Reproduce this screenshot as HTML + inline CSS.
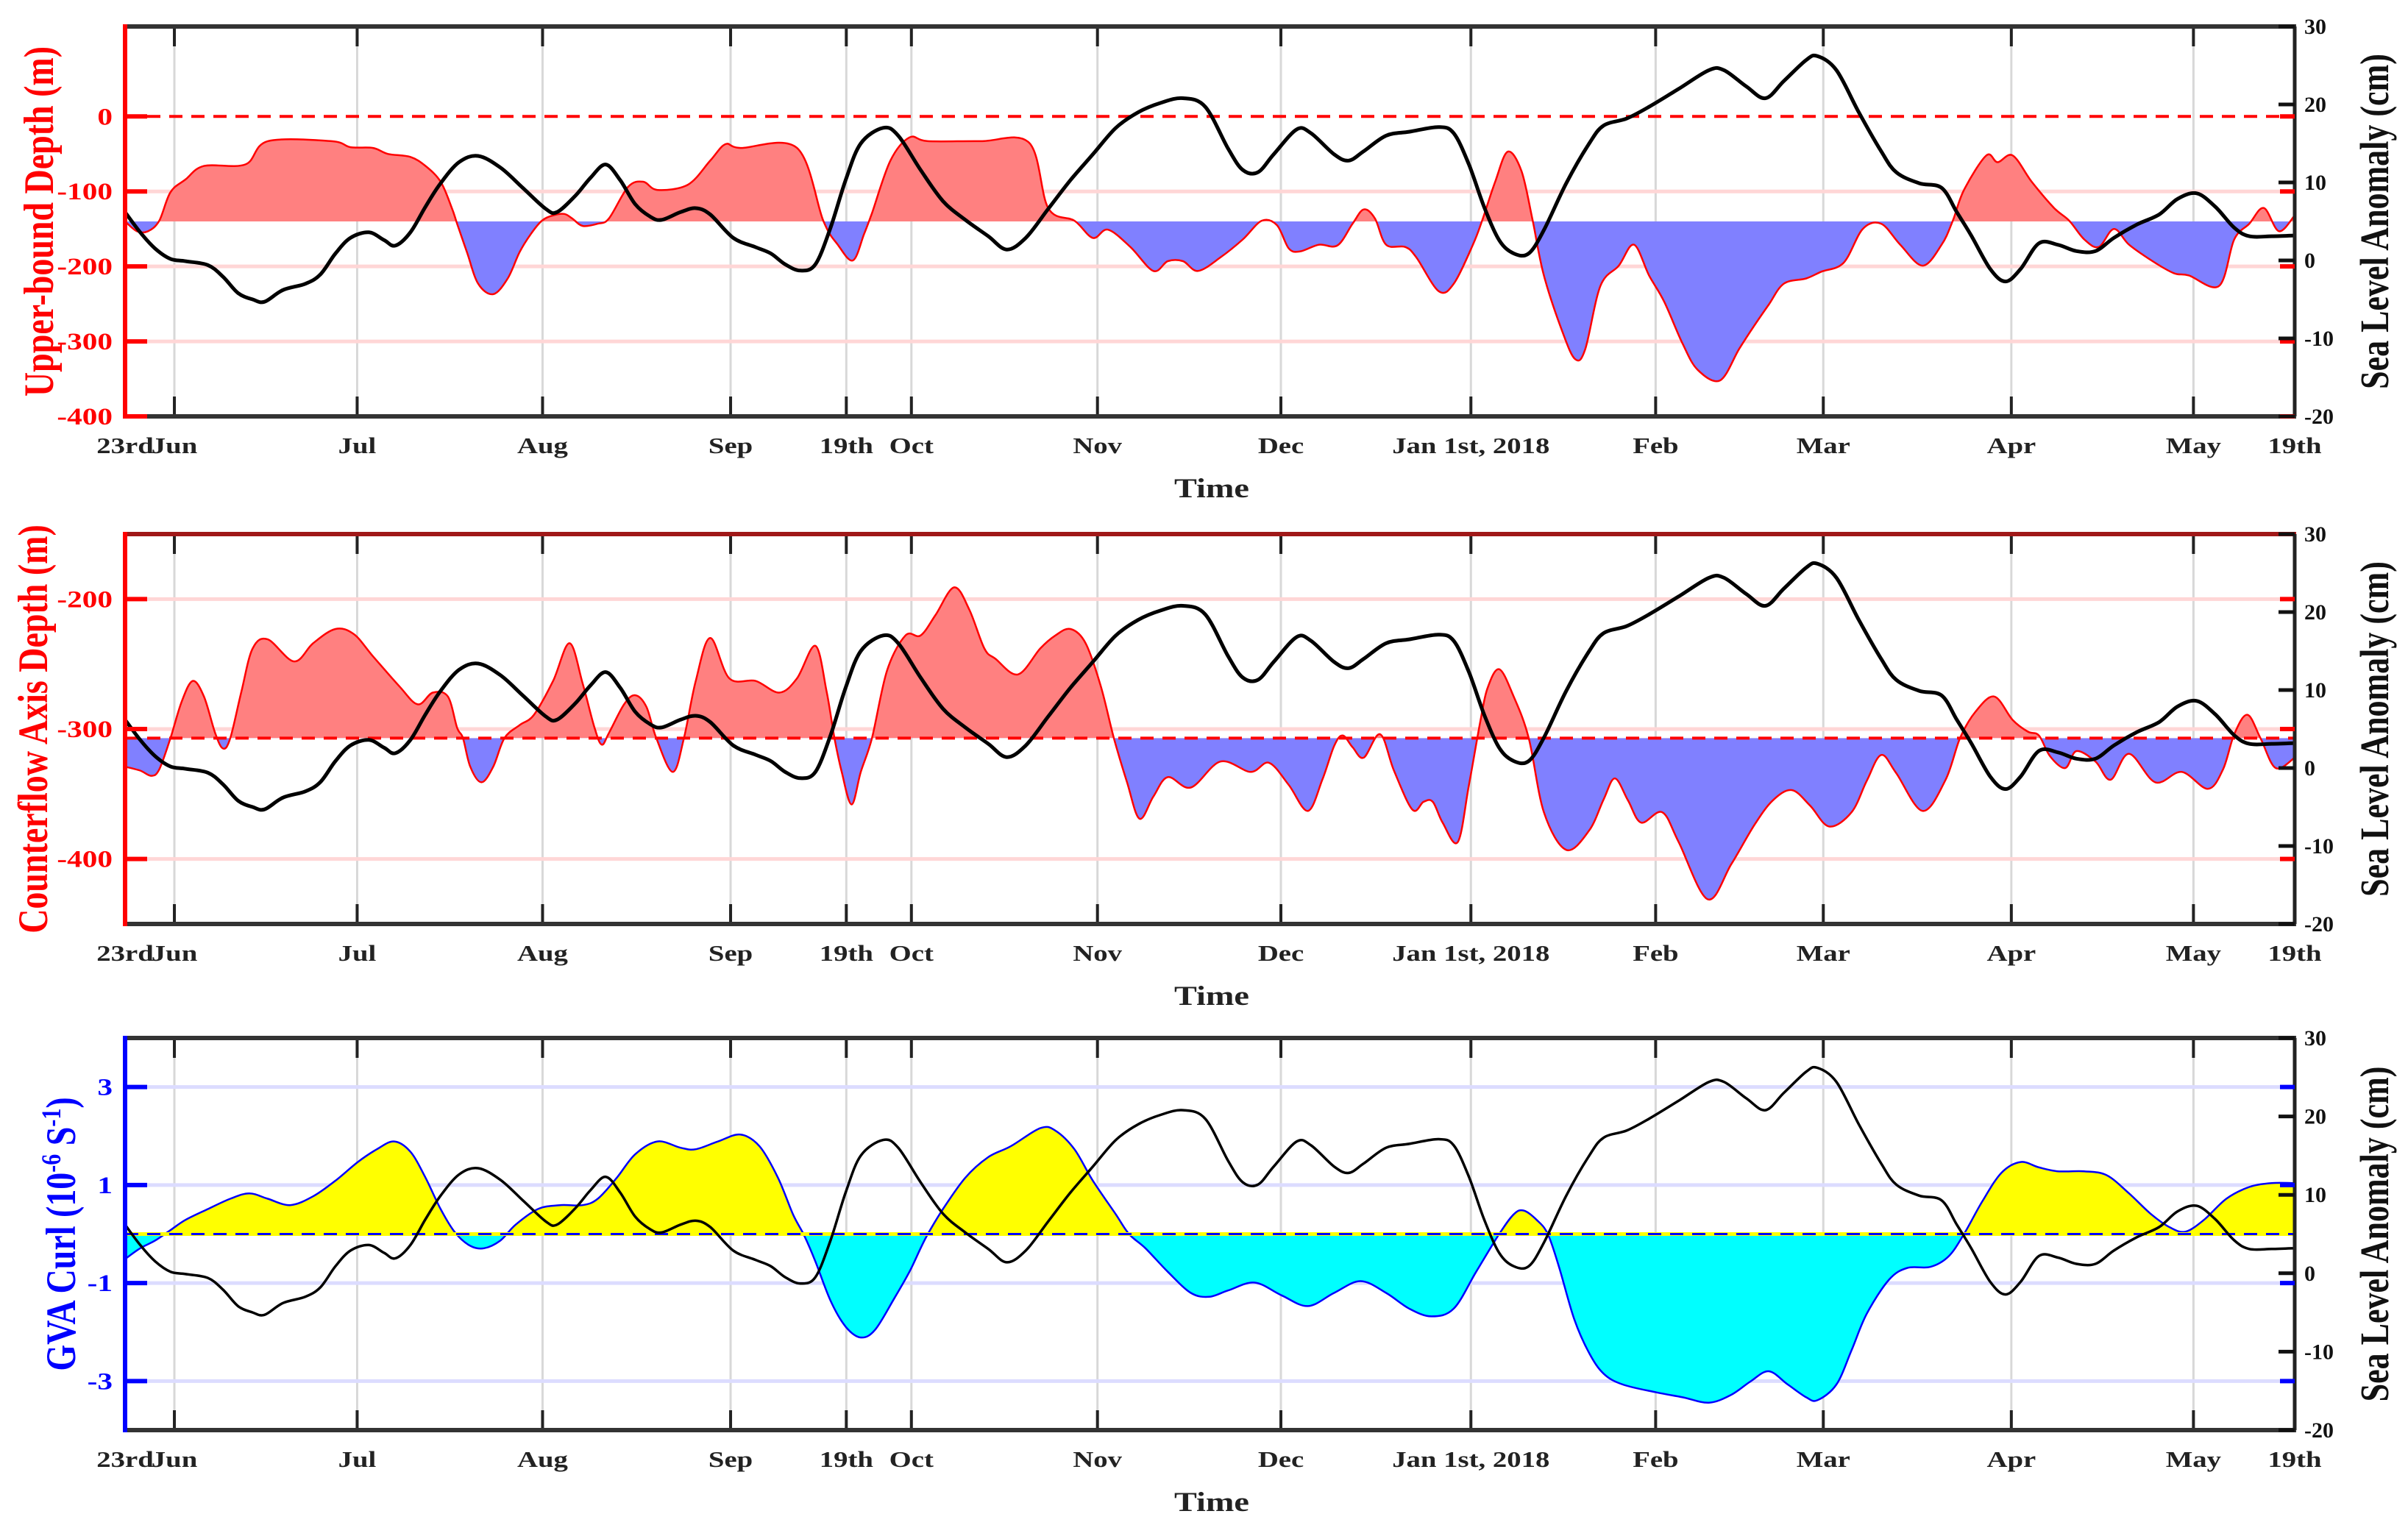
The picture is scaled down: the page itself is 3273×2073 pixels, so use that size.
<!DOCTYPE html>
<html><head><meta charset="utf-8"><title>Upper-bound depth, counterflow axis depth and GVA curl against sea level anomaly, 23 Jun – 19 May</title>
<style>
html,body{margin:0;padding:0;background:#fff;}
svg{display:block;}
text{font-family:"Liberation Serif",serif;font-weight:bold;}
</style></head>
<body>
<svg id="chart" xmlns="http://www.w3.org/2000/svg" width="3273" height="2073" viewBox="0 0 3273 2073"></svg>
<script>
// ---------- data ----------
const tickDays = [0, 7.5, 35.3, 63.5, 92.1, 109.7, 119.6, 147.9, 175.8, 204.7, 232.8, 258.3, 286.9, 314.6, 330];
const tickLabels = ["23rd", "Jun", "Jul", "Aug", "Sep", "19th", "Oct", "Nov", "Dec", "Jan 1st, 2018", "Feb", "Mar", "Apr", "May", "19th"];

const slaDays = [0,2.3,4.6,6.9,9.2,12.6,14.9,17.2,19.4,21.2,24.0,27.4,29.7,32.0,34.3,37.1,39.4,41.1,43.4,45.7,48.0,50.8,53.7,57.1,60.5,64.0,65.7,68.5,70.8,73.1,75.3,77.6,79.9,81.6,84.5,86.8,89.0,92.5,95.9,98.2,100.4,102.7,105.0,107.3,109.6,111.9,115.3,117.6,121.0,124.4,127.8,131.3,134.1,137.0,140.4,143.8,147.2,150.7,154.1,157.5,160.9,164.3,167.8,170.0,172.3,174.7,178.2,180.4,183.9,186.1,188.4,191.8,195.3,199.8,202.1,204.4,206.7,209.0,211.2,213.5,215.8,219.2,222.7,224.9,228.4,231.8,236.3,240.9,243.2,246.6,249.5,252.3,255.7,257.4,260.3,263.7,267.1,269.4,272.9,276.3,278.6,280.8,283.7,286.0,288.3,291.1,294.0,296.8,299.7,302.5,306.0,309.4,312.2,315.1,317.9,320.8,323.1,326.5,330];
const slaValues = [6.2,3.6,1.5,0.2,-0.1,-0.6,-2.1,-4.2,-5.0,-5.3,-3.8,-3.0,-1.8,0.9,2.9,3.6,2.6,1.9,3.6,6.9,9.9,12.6,13.4,11.9,9.3,6.6,6.2,8.3,10.6,12.3,10.3,7.2,5.6,5.2,6.2,6.7,5.9,2.9,1.7,0.9,-0.5,-1.3,-0.5,4.2,10.3,15.0,17.0,16.0,11.6,7.6,5.2,3.1,1.4,2.9,6.6,10.3,13.6,17.0,19.0,20.2,20.8,19.7,14.3,11.6,11.3,13.6,16.8,16.3,13.6,12.8,14.0,16.0,16.5,17.1,16.3,12.3,6.9,2.6,0.9,0.9,3.9,9.9,15.0,17.3,18.2,19.7,22.0,24.4,24.4,22.3,20.8,23.0,25.7,26.2,24.4,19.0,14.0,11.3,9.9,9.3,6.2,3.2,-1.1,-2.7,-1.1,2.2,2.0,1.2,1.2,2.9,4.6,5.9,7.9,8.6,6.9,4.2,3.1,3.1,3.2];

const upperDays = [0,1.8,3.5,5.2,6.9,9.2,12.0,18.3,21.7,31.4,34.3,37.7,40.0,43.4,45.7,48.0,49.7,50.5,52.0,53.7,56.0,58.2,60.0,61.7,63.4,65.1,66.8,68.0,69.6,71.9,73.6,76.5,78.8,81.0,85.6,89.0,91.3,93.6,102.2,106.2,108.4,110.7,112.4,113.6,116.4,119.3,122.1,130.1,137.5,140.4,144.4,147.2,149.5,152.9,156.4,158.6,160.9,163.2,166.6,170.0,172.9,175.2,177.0,178.7,181.6,184.4,186.7,188.4,190.1,191.8,194.7,196.4,199.8,202.1,205.0,206.4,208.4,210.3,212.4,214.1,215.8,218.7,220.6,222.1,224.4,227.2,229.5,231.8,234.1,236.9,239.2,242.6,245.5,247.8,250.0,252.3,255.7,258.0,261.4,264.3,267.1,270.0,273.4,276.3,278.0,279.7,283.1,284.8,287.1,290.0,293.4,295.7,298.0,300.2,302.5,304.8,308.2,311.6,313.9,318.5,320.8,323.1,325.3,327.6,330];
const upperValues = [-140,-153,-153,-139,-101,-84,-66,-64,-33,-33,-41,-42,-50,-54,-66,-87,-122,-143,-181,-223,-237,-216,-181,-157,-139,-132,-130,-136,-146,-143,-136,-94,-87,-98,-91,-59,-37,-42,-42,-139,-171,-192,-157,-129,-59,-28,-33,-33,-35,-122,-139,-162,-151,-174,-206,-193,-193,-206,-188,-164,-139,-145,-176,-180,-171,-172,-143,-124,-136,-171,-174,-188,-233,-223,-171,-139,-87,-47,-73,-139,-212,-289,-324,-310,-226,-199,-171,-212,-247,-303,-338,-352,-310,-279,-251,-223,-216,-207,-195,-150,-143,-171,-199,-171,-139,-98,-52,-61,-52,-87,-122,-139,-164,-174,-150,-171,-192,-209,-212,-226,-164,-143,-122,-153,-132];

const cfDays = [0,2.3,4.0,5.2,6.9,8.6,10.3,12.0,13.7,14.9,16.0,17.7,19.4,21.7,25.7,28.6,32.0,34.8,37.7,41.7,44.5,46.8,49.1,50.5,51.4,52.5,54.2,56.0,57.7,60.0,62.2,65.1,67.6,69.6,71.4,72.5,73.6,75.9,77.6,79.3,80.8,83.3,85.0,86.8,89.0,91.9,95.9,99.5,102.2,105.0,106.7,107.9,109.0,110.5,111.9,113.6,115.9,118.7,121.0,123.3,126.1,128.4,130.7,132.4,135.8,139.2,141.5,143.8,146.1,148.4,150.4,152.4,154.3,156.4,158.6,162.1,166.6,171.2,174.0,177.0,179.9,182.1,183.9,185.2,186.7,188.4,190.9,193.0,195.8,197.5,198.9,200.4,202.7,204.4,206.1,207.2,209.0,211.2,213.5,215.8,219.2,222.7,224.9,226.6,228.6,230.6,233.8,236.3,240.7,244.3,247.8,250.6,253.5,256.3,259.2,262.6,264.9,267.1,269.4,273.4,276.9,279.1,281.4,284.3,287.1,289.4,291.1,292.8,295.1,296.8,299.7,302.0,304.8,308.8,312.8,316.8,319.1,320.8,322.8,324.8,327.1,330];
const cfValues = [-329,-332,-336,-331,-307,-279,-263,-275,-303,-315,-307,-271,-238,-231,-248,-234,-223,-227,-244,-267,-281,-272,-275,-299,-307,-329,-341,-329,-307,-297,-289,-263,-234,-265,-299,-312,-303,-281,-274,-283,-307,-333,-307,-263,-230,-261,-263,-272,-261,-236,-271,-307,-333,-358,-333,-307,-255,-228,-228,-212,-191,-208,-238,-246,-258,-238,-228,-223,-234,-267,-307,-341,-369,-352,-337,-345,-325,-333,-326,-343,-363,-339,-313,-305,-314,-322,-304,-332,-362,-356,-356,-372,-387,-343,-295,-269,-254,-275,-307,-364,-393,-378,-354,-338,-355,-372,-364,-387,-431,-404,-374,-355,-347,-359,-375,-364,-340,-320,-334,-363,-339,-307,-287,-275,-293,-302,-305,-321,-330,-317,-325,-339,-319,-341,-333,-346,-331,-304,-289,-307,-330,-322];

const curlDays = [0,2.3,4.6,6.9,9.2,12.6,16.0,18.9,21.7,25.1,28.6,32.0,35.4,38.3,40.9,43.4,45.7,48.0,50.2,52.5,54.6,57.1,59.4,62.8,66.2,69.6,71.9,74.8,77.6,81.0,84.5,86.8,90.2,93.6,96.5,99.3,101.6,103.3,105.0,107.3,109.6,111.9,114.1,117.0,119.3,121.0,122.1,124.4,127.8,131.3,134.7,139.2,141.5,144.4,147.2,150.7,152.7,155.2,158.6,162.1,164.9,167.8,171.8,175.9,179.9,183.9,187.9,191.8,195.3,198.7,202.1,205.5,209.0,211.2,212.7,214.7,216.4,218.1,220.4,222.7,224.9,227.8,232.9,236.9,240.9,244.3,247.2,250.0,252.9,255.7,257.4,260.3,262.6,264.9,268.3,271.1,274.6,277.4,279.7,282.5,285.4,288.3,291.1,294.0,298.0,301.4,304.8,308.2,311.1,313.4,316.2,319.6,323.1,326.5,330];
const curlValues = [-0.51,-0.29,-0.13,0.08,0.29,0.51,0.72,0.83,0.72,0.59,0.77,1.09,1.47,1.73,1.89,1.68,1.15,0.51,0.03,-0.24,-0.29,-0.13,0.19,0.51,0.59,0.59,0.72,1.15,1.63,1.89,1.76,1.73,1.89,2.03,1.79,1.15,0.40,-0.03,-0.56,-1.36,-1.89,-2.11,-1.95,-1.31,-0.77,-0.29,0.0,0.51,1.15,1.57,1.79,2.16,2.11,1.73,1.09,0.40,0.0,-0.29,-0.77,-1.20,-1.28,-1.15,-0.99,-1.25,-1.47,-1.20,-0.96,-1.20,-1.52,-1.68,-1.52,-0.77,0.0,0.40,0.48,0.29,0.0,-0.67,-1.73,-2.43,-2.85,-3.07,-3.23,-3.33,-3.44,-3.28,-3.01,-2.80,-3.07,-3.33,-3.39,-3.07,-2.37,-1.63,-0.93,-0.69,-0.67,-0.45,0.0,0.67,1.25,1.47,1.36,1.28,1.28,1.20,0.83,0.40,0.13,0.05,0.29,0.72,0.96,1.04,1.04];

const p1LeftTicks = [0, -100, -200, -300, -400];
const p2LeftTicks = [-200, -300, -400];
const p3LeftTicks = [3, 1, -1, -3];
const rightTicks = [30, 20, 10, 0, -10, -20];

// ---------- layout ----------
const NS = "http://www.w3.org/2000/svg";
const svg = document.getElementById("chart");
const XL = 170, XR = 3119, DMAX = 330;
const xs = d => XL + d / DMAX * (XR - XL);

function el(tag, attrs, parent) {
  const e = document.createElementNS(NS, tag);
  for (const k in attrs) e.setAttribute(k, attrs[k]);
  (parent || svg).appendChild(e);
  return e;
}
function smooth(pts) {
  let d = "M" + pts[0][0].toFixed(1) + "," + pts[0][1].toFixed(1);
  for (let i = 0; i < pts.length - 1; i++) {
    const p0 = pts[Math.max(0, i - 1)], p1 = pts[i], p2 = pts[i + 1], p3 = pts[Math.min(pts.length - 1, i + 2)];
    const c1x = p1[0] + (p2[0] - p0[0]) / 6, c1y = p1[1] + (p2[1] - p0[1]) / 6;
    const c2x = p2[0] - (p3[0] - p1[0]) / 6, c2y = p2[1] - (p3[1] - p1[1]) / 6;
    d += "C" + c1x.toFixed(1) + "," + c1y.toFixed(1) + " " + c2x.toFixed(1) + "," + c2y.toFixed(1) + " " + p2[0].toFixed(1) + "," + p2[1].toFixed(1);
  }
  return d;
}
function txt(parent, s, x, y, size, color, anchor, rot, weight, sx) {
  const t = el("text", {
    transform: "translate(" + x + "," + y + ") scale(" + (sx || 1.25) + ",1)" + (rot ? " rotate(" + rot + ")" : ""),
    "font-size": size, fill: color, "text-anchor": anchor || "middle"
  }, parent);
  if (weight) t.setAttribute("font-weight", weight);
  t.textContent = s;
  return t;
}

const panels = [
  { name: "upper-bound-depth-panel", top: 36, bot: 566, lo: -400, hi: 120, base: -140, days: upperDays, vals: upperValues,
    posFill: "#ff8080", negFill: "#8080ff", edge: "#ff0000", axis: "#ff0000", grid: "#ffd6d6", topBorder: "#333333",
    leftTicks: p1LeftTicks, dashAt: 0, dashBase: false, title: "Upper-bound Depth (m)", titleX: 56, slaW: 5 },
  { name: "counterflow-depth-panel", top: 726, bot: 1256, lo: -450, hi: -150, base: -307, days: cfDays, vals: cfValues,
    posFill: "#ff8080", negFill: "#8080ff", edge: "#ff0000", axis: "#ff0000", grid: "#ffd6d6", topBorder: "#a01818",
    leftTicks: p2LeftTicks, dashAt: null, dashBase: true, title: "Counterflow Axis Depth (m)", titleX: 48, slaW: 5 },
  { name: "gva-curl-panel", top: 1411, bot: 1944, lo: -4, hi: 4, base: 0, days: curlDays, vals: curlValues,
    posFill: "#ffff00", negFill: "#00ffff", edge: "#0000ff", axis: "#0000ff", grid: "#dcdcff", topBorder: "#333333",
    leftTicks: p3LeftTicks, dashAt: null, dashBase: true, title: null, titleX: 86, slaW: 3.5 }
];

panels.forEach((P, pi) => {
  const g = el("g", {});
  
  
  const ys = v => P.bot - (v - P.lo) / (P.hi - P.lo) * (P.bot - P.top);
  const yr = v => P.bot - (v + 20) / 50 * (P.bot - P.top);
  const yb = ys(P.base);

  // vertical grid lines
  tickDays.forEach((d, i) => {
    if (i === 0 || i === tickDays.length - 1) return;
    const l = el("line", { x1: xs(d), x2: xs(d), y1: P.top, y2: P.bot, stroke: "#d8d8d8", "stroke-width": 3 }, g);
    
    
    el("line", { x1: xs(d), x2: xs(d), y1: P.top, y2: P.top + 27, stroke: "#222", "stroke-width": 4 }, g);
    el("line", { x1: xs(d), x2: xs(d), y1: P.bot - 27, y2: P.bot, stroke: "#222", "stroke-width": 4 }, g);
  });
  // horizontal grid lines
  P.leftTicks.forEach(v => {
    if (v === P.lo) return;
    if (P.dashAt !== null && v === P.dashAt) return;
    const l = el("line", { x1: XL, x2: XR, y1: ys(v), y2: ys(v), stroke: P.grid, "stroke-width": 5 }, g);
    
    
  });

  // fill areas
  const pts = P.days.map((d, i) => [xs(d), ys(P.vals[i])]);
  const curve = smooth(pts);
  const areaD = curve + "L" + pts[pts.length - 1][0] + "," + yb + "L" + pts[0][0] + "," + yb + "Z";
  const cpA = el("clipPath", { id: "above" + pi }, g);
  el("rect", { x: XL, y: P.top, width: XR - XL, height: yb - P.top }, cpA);
  const cpB = el("clipPath", { id: "below" + pi }, g);
  el("rect", { x: XL, y: yb, width: XR - XL, height: P.bot - yb }, cpB);
  const aPos = el("path", { d: areaD, fill: P.posFill, "clip-path": "url(#above" + pi + ")" }, g);
  
  
  const aNeg = el("path", { d: areaD, fill: P.negFill, "clip-path": "url(#below" + pi + ")" }, g);
  
  
  const edge = el("path", { d: curve, fill: "none", stroke: P.edge, "stroke-width": 2.5 }, g);
  
  

  // dashed reference lines
  if (P.dashAt !== null) {
    const dl = el("line", { x1: XL, x2: XR, y1: ys(P.dashAt), y2: ys(P.dashAt), stroke: "#ff0000", "stroke-width": 4, "stroke-dasharray": "18 12" }, g);
    
    
  }
  if (P.dashBase) {
    if (pi === 2) {
      el("line", { x1: XL, x2: XR, y1: yb, y2: yb, stroke: "#ffff00", "stroke-width": 5 }, g);
      const dl = el("line", { x1: XL, x2: XR, y1: yb, y2: yb, stroke: "#0000ff", "stroke-width": 3, "stroke-dasharray": "18 12" }, g);
      
      
    } else {
      const dl = el("line", { x1: XL, x2: XR, y1: yb, y2: yb, stroke: "#ff0000", "stroke-width": 4, "stroke-dasharray": "18 12" }, g);
      
      
    }
  }

  // SLA line
  const sPts = slaDays.map((d, i) => [xs(d), yr(slaValues[i])]);
  const sla = el("path", { d: smooth(sPts), fill: "none", stroke: "#000", "stroke-width": P.slaW, "stroke-linejoin": "round" }, g);
  
  

  // frame
  el("line", { x1: XL, x2: XR + 2, y1: P.top, y2: P.top, stroke: P.topBorder, "stroke-width": 6 }, g);
  el("line", { x1: XL, x2: XR + 2, y1: P.bot, y2: P.bot, stroke: "#333", "stroke-width": 6 }, g);
  const ra = el("line", { x1: XR, x2: XR, y1: P.top, y2: P.bot, stroke: "#222", "stroke-width": 5 }, g);
  
  
  const la = el("line", { x1: XL, x2: XL, y1: P.top - 3, y2: P.bot + 3, stroke: P.axis, "stroke-width": 6 }, g);
  
  

  // left ticks + labels
  P.leftTicks.forEach(v => {
    el("line", { x1: XL, x2: XL + 30, y1: ys(v), y2: ys(v), stroke: P.axis, "stroke-width": 6 }, g);
    el("line", { x1: XR - 20, x2: XR, y1: ys(v), y2: ys(v), stroke: P.axis, "stroke-width": 6 }, g);
    const t = txt(g, String(v), 153, ys(v) + 11, 33, P.axis, "end");
    
    
  });
  // right ticks + labels
  rightTicks.forEach(v => {
    el("line", { x1: XR - 22, x2: XR, y1: yr(v), y2: yr(v), stroke: "#111", "stroke-width": 5 }, g);
    const t = txt(g, String(v), 3132, yr(v) + 10, 30, "#111", "start", 0, "bold", 1);
    
    
  });

  // x tick labels
  tickDays.forEach((d, i) => {
    const t = txt(g, tickLabels[i], xs(d), P.bot + 50, 31, "#222", "middle");
    
    
  });
  const xt = txt(g, "Time", 1647, P.bot + 110, 37, "#222", "middle");
  
  

  // left title
  const mid = (P.top + P.bot) / 2;
  if (P.title) {
    const t = txt(g, P.title, P.titleX + 16, mid, 46, P.axis, "middle", -90);
    
    
  } else {
    const t = el("text", { transform: "translate(" + (P.titleX + 16) + "," + mid + ") scale(1.25,1) rotate(-90)", "font-size": 46, fill: P.axis, "text-anchor": "middle" }, g);
    
    
    const parts = [["GVA Curl (10", 0], ["-6", 1], [" S", 0], ["-1", 1], [")", 0]];
    parts.forEach(p => {
      const ts = el("tspan", {}, t);
      if (p[1]) { ts.setAttribute("baseline-shift", "super"); ts.setAttribute("font-size", 30); }
      ts.textContent = p[0];
    });
  }
  // right title
  const rt = txt(g, "Sea Level Anomaly (cm)", 3246, mid, 44, "#111", "middle", -90);
  
  
});
</script>
</body></html>
